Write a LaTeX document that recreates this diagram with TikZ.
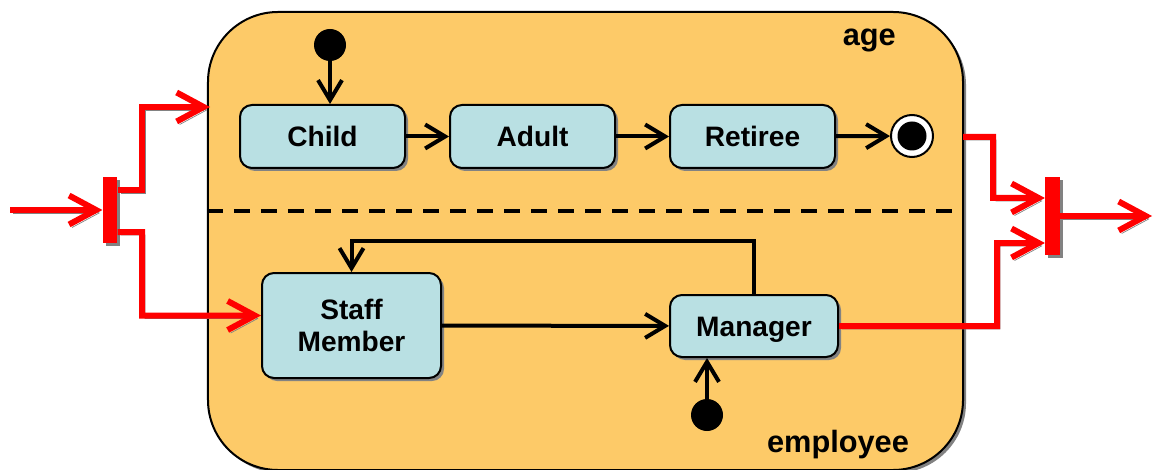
\documentclass[tikz,border=0pt]{standalone}
\usepackage{fontspec}
\setmainfont{Liberation Sans}
\usepackage{tikz}
\usetikzlibrary{arrows.meta, positioning, shadows}
\definecolor{lifeorange}{RGB}{253, 202, 104}
\definecolor{statecyan}{RGB}{185, 224, 227}
\definecolor{shadowgray}{RGB}{130, 130, 130}

\begin{document}
\begin{tikzpicture}[
        x=0.2mm, y=-0.2mm,
        shade/.style={drop shadow={shadow xshift=0.6mm, shadow yshift=-0.6mm, fill=shadowgray, opacity=1}},
        region/.style={draw, line width=0.4mm, rounded corners=14mm, fill=lifeorange, shade, minimum width=151mm, minimum height=91.6mm},
        state/.style={draw, line width=0.4mm, rounded corners=2.4mm, fill=statecyan, shade, align=center,
            font=\fontsize{16}{18}\selectfont\bfseries, minimum width=33mm, minimum height=12.6mm},
        oneline/.style={text height=12pt, text depth=0.5pt},
        init/.style={circle, fill=black, inner sep=0pt, minimum size=6.4mm},
        final/.style={circle, draw, line width=0.4mm, fill=white, inner sep=0pt, minimum size=8.4mm,
            path picture={\fill[black] (path picture bounding box.center) circle (2.9mm);}},
        bar/.style={fill=red, inner sep=0pt, shade, minimum width=2.9mm},
        trans/.style={-{Straight Barb[length=4mm, width=4.8mm]}, line width=0.8mm},
        flow/.style={-{Straight Barb[length=5.4mm, width=5.8mm]}, line width=1.2mm, draw=red,
            preaction={draw=shadowgray, transform canvas={xshift=0.6mm, yshift=-0.6mm}}},
        lbl/.style={font=\fontsize{17.5}{20}\selectfont\bfseries}
    ]
        \useasboundingbox (0,0) rectangle (1155,470);

        % Composite state with two regions
        \node (box) [region] at (585.5,241) {};
        \draw [line width=0.8mm, dash pattern=on 3.2mm off 2.2mm] (box.west |- 0,211) -- (box.east |- 0,211);
        \node (age) [lbl, anchor=east] at (902,40) {age};
        \node (employee) [lbl] at (838,445) {employee};

        % Region 1
        \node (init1) [init] at (330,45) {};
        \node (child) [state, oneline] at (322.5,136.5) {Child};
        \node (adult) [state, oneline] at (532.5,136.5) {Adult};
        \node (retiree) [state, oneline] at (752.5,136.5) {Retiree};
        \node (end) [final] at (912,136) {};

        % Region 2
        \node (staff) [state, minimum width=35.8mm, minimum height=21mm] at (351.5,325.5) {Staff\\Member};
        \node (manager) [state, oneline, minimum width=33.6mm, minimum height=12.4mm] at (754,326) {Manager};
        \node (init2) [init] at (707,415) {};

        % Fork and join
        \node (fork) [bar, minimum height=13.2mm] at (110,210) {};
        \node (join) [bar, minimum height=15.6mm] at (1052.5,216) {};
        \coordinate (src) at (10,210);
        \coordinate (ageIn) at (210,107);
        \coordinate (ageOut) at (963,137);
        \coordinate (sink) at (1152,216);

        % Transitions
        \draw [trans] (init1) -- (init1 |- child.north);
        \draw [trans] (child) -- (adult);
        \draw [trans] (adult) -- (retiree);
        \draw [trans] (retiree) -- (end);
        \draw [trans] (staff) -- (manager);
        \draw [trans] (manager.north) |- ([yshift=6.2mm]staff.north) -- (staff.north);
        \draw [trans] (init2) -- (init2 |- manager.south);

        % Concurrent flows
        \draw [flow] (src) -- (fork);
        \draw [flow] ([yshift=4mm]fork.east) -| (142,107) -- (ageIn);
        \draw [flow] ([yshift=-4.4mm]fork.east) -| (142,315.5) -- ([yshift=2mm]staff.west);
        \draw [flow] (ageOut) -| (993,198) -- ([yshift=3.6mm]join.west);
        \draw [flow] (manager.east) -| (997,243) -- ([yshift=-5.4mm]join.west);
        \draw [flow] (join) -- (sink);
    \end{tikzpicture}
\end{document}
